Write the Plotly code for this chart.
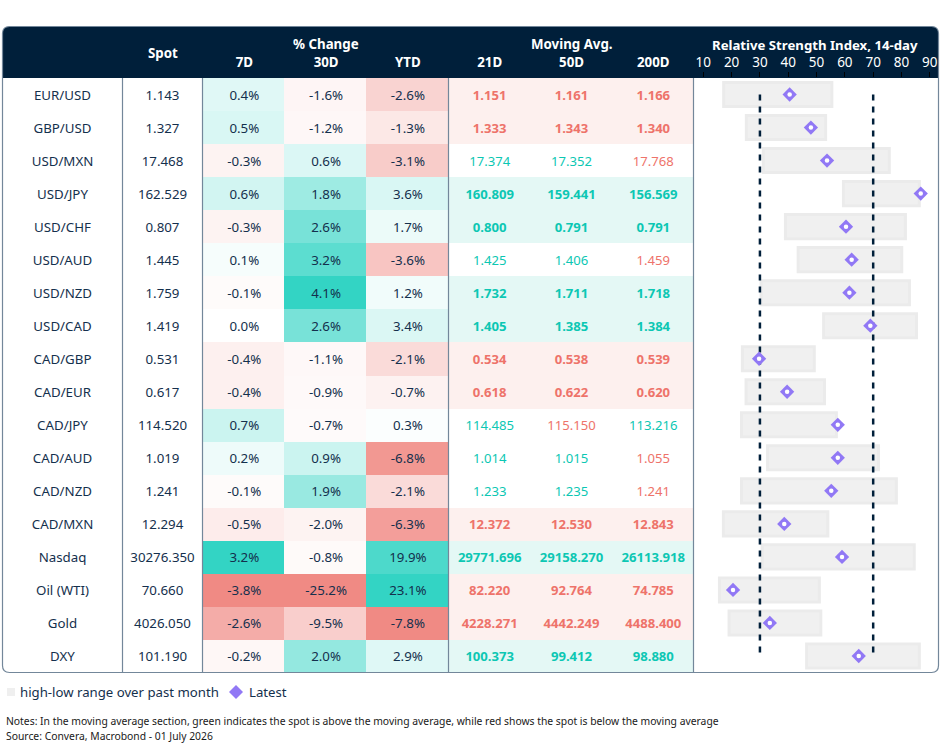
import plotly.graph_objects as go

# table data, one list per column
rows = ["EUR/USD", "GBP/USD", "USD/MXN", "USD/JPY", "USD/CHF", "USD/AUD", "USD/NZD", "USD/CAD", "CAD/GBP",
        "CAD/EUR", "CAD/JPY", "CAD/AUD", "CAD/NZD", "CAD/MXN", "Nasdaq", "Oil (WTI)", "Gold", "DXY"]
spot = [1.143, 1.327, 17.468, 162.529, 0.807, 1.445, 1.759, 1.419, 0.531,
        0.617, 114.520, 1.019, 1.241, 12.294, 30276.350, 70.660, 4026.050, 101.190]
chg_7d = [0.4, 0.5, -0.3, 0.6, -0.3, 0.1, -0.1, 0.0, -0.4, -0.4, 0.7, 0.2, -0.1, -0.5, 3.2, -3.8, -2.6, -0.2]
chg_30d = [-1.6, -1.2, 0.6, 1.8, 2.6, 3.2, 4.1, 2.6, -1.1, -0.9, -0.7, 0.9, 1.9, -2.0, -0.8, -25.2, -9.5, 2.0]
chg_ytd = [-2.6, -1.3, -3.1, 3.6, 1.7, -3.6, 1.2, 3.4, -2.1, -0.7, 0.3, -6.8, -2.1, -6.3, 19.9, 23.1, -7.8, 2.9]
ma_21 = [1.151, 1.333, 17.374, 160.809, 0.800, 1.425, 1.732, 1.405, 0.534,
         0.618, 114.485, 1.014, 1.233, 12.372, 29771.696, 82.220, 4228.271, 100.373]
ma_50 = [1.161, 1.343, 17.352, 159.441, 0.791, 1.406, 1.711, 1.385, 0.538,
         0.622, 115.150, 1.015, 1.235, 12.530, 29158.270, 92.764, 4442.249, 99.412]
ma_200 = [1.166, 1.340, 17.768, 156.569, 0.791, 1.459, 1.718, 1.384, 0.539,
          0.620, 113.216, 1.055, 1.241, 12.843, 26113.918, 74.785, 4488.400, 98.880]

# RSI panel
rsi_low = [17.2, 25.2, 31.2, 59.5, 39.0, 43.5, 30.4, 52.5, 23.8, 25.1, 23.5, 32.7, 23.5, 17.1, 30.8, 15.7, 19.1, 46.5]
rsi_high = [55.4, 53.2, 75.7, 86.3, 81.4, 80.1, 82.8, 85.3, 49.2, 52.8, 57.0, 71.9, 78.2, 54.0, 84.5, 51.0, 51.5, 86.3]
rsi_latest = [40.5, 48.0, 53.7, 86.8, 60.4, 62.4, 61.6, 69.0, 29.7, 39.6, 57.5, 57.5, 55.2, 38.6, 59.0, 20.5, 33.5, 64.9]
rsi_levels = [30, 70]

pct_cols = ["7D", "30D", "YTD"]
ma_cols = ["21D", "50D", "200D"]
table_cols = ["Spot"] + pct_cols + ma_cols

FONT = "Noto Sans"
NAVY = "#001f3a"
TEXT = "#14304d"
FRAME = "#73879a"
TEAL = "#33d4c4"
RED = "#f08a84"
MA_GREEN = "#0cc7b3"
MA_RED = "#ee736a"
W, H = 941, 745


def px(x):
    return x / W


def py(y):
    return 1 - y / H


def scale_column(values):
    # each column is shaded against its own largest rise and largest fall
    top = max(values)
    bottom = -min(values)
    return [(v / top) ** 0.9 if v > 0 else -((-v / bottom) ** 0.9) for v in values]


pct_z = [list(r) for r in zip(*[scale_column(c) for c in (chg_7d, chg_30d, chg_ytd)])]
pct_text = [f"{v:.1f}%" for c in (chg_7d, chg_30d, chg_ytd) for v in c]

# a row is shaded and bold only when the spot is on the same side of all three averages
ma_text, ma_color, ma_weight, ma_z = [], [], [], []
for i in range(len(rows)):
    above = [spot[i] > m[i] for m in (ma_21, ma_50, ma_200)]
    agree = all(above) or not any(above)
    ma_z.append([(1 if above[0] else -1) if agree else 0] * 3)

for m in (ma_21, ma_50, ma_200):
    for i in range(len(rows)):
        ma_text.append(f"{m[i]:.3f}")
        ma_color.append(MA_GREEN if spot[i] > m[i] else MA_RED)
        ma_weight.append(700 if ma_z[i][0] != 0 else 400)

fig = go.Figure()

fig.add_trace(go.Heatmap(x=pct_cols, y=rows, z=pct_z, zmin=-1, zmax=1, showscale=False, hoverinfo="skip",
                         colorscale=[[0, RED], [0.5, "#ffffff"], [1, TEAL]]))
fig.add_trace(go.Heatmap(x=ma_cols, y=rows, z=ma_z, zmin=-1, zmax=1, showscale=False, hoverinfo="skip",
                         colorscale=[[0, "#fdf0ee"], [0.5, "#ffffff"], [1, "#e4f8f5"]]))

# cell text sits on its own axes, nudged a little against the cell colours
fig.add_trace(go.Scatter(x=["Pair"] * len(rows), y=rows, text=rows, mode="text", xaxis="x3", yaxis="y2",
                         textfont=dict(family=FONT, size=13.3, color=TEXT), hoverinfo="skip"))
fig.add_trace(go.Scatter(x=["Spot"] * len(rows), y=rows, text=[f"{v:.3f}" for v in spot], mode="text",
                         xaxis="x4", yaxis="y2",
                         textfont=dict(family=FONT, size=13.3, color=TEXT), hoverinfo="skip"))
fig.add_trace(go.Scatter(x=[c for c in pct_cols for _ in rows], y=rows * 3, text=pct_text, mode="text",
                         xaxis="x4", yaxis="y2",
                         textfont=dict(family=FONT, size=13.3, color=TEXT), hoverinfo="skip"))
fig.add_trace(go.Scatter(x=[c for c in ma_cols for _ in rows], y=rows * 3, text=ma_text, mode="text",
                         xaxis="x4", yaxis="y2",
                         textfont=dict(family=FONT, size=13.1, color=ma_color, weight=ma_weight), hoverinfo="skip"))

# RSI panel
fig.add_trace(go.Bar(y=rows, x=[h - l for h, l in zip(rsi_high, rsi_low)], base=rsi_low, orientation="h",
                     xaxis="x2", width=0.73, marker=dict(color="#f0f0f0", line=dict(color="#ebebeb", width=3)),
                     hoverinfo="skip"))
for level in rsi_levels:
    fig.add_trace(go.Scatter(x=[level, level], y=[rows[0], rows[-1]], mode="lines", xaxis="x2",
                             line=dict(color=NAVY, width=2.5, dash="6px,6px"), hoverinfo="skip"))
fig.add_trace(go.Scatter(x=rsi_latest, y=rows, mode="markers", xaxis="x2", cliponaxis=False,
                         marker=dict(symbol="diamond", size=11, color="#9178f5")))
fig.add_trace(go.Scatter(x=rsi_latest, y=rows, mode="markers", xaxis="x2", cliponaxis=False,
                         marker=dict(symbol="circle", size=4.5, color="#ffffff")))

# header block and frame
top, head, bottom, left, right, r = 26.5, 78, 672.5, 2.5, 938.5, 7
header_path = (f"M {px(left)} {py(head)} L {px(left)} {py(top + r)} Q {px(left)} {py(top)} {px(left + r)} {py(top)} "
               f"L {px(right - r)} {py(top)} Q {px(right)} {py(top)} {px(right)} {py(top + r)} L {px(right)} {py(head)} Z")
frame_path = (f"M {px(left)} {py(top + r)} Q {px(left)} {py(top)} {px(left + r)} {py(top)} "
              f"L {px(right - r)} {py(top)} Q {px(right)} {py(top)} {px(right)} {py(top + r)} "
              f"L {px(right)} {py(bottom - r)} Q {px(right)} {py(bottom)} {px(right - r)} {py(bottom)} "
              f"L {px(left + r)} {py(bottom)} Q {px(left)} {py(bottom)} {px(left)} {py(bottom - r)} Z")
shapes = [
    dict(type="path", path=header_path, xref="paper", yref="paper", fillcolor=NAVY, line_width=0, layer="below"),
    dict(type="path", path=frame_path, xref="paper", yref="paper", line=dict(color=FRAME, width=1.2)),
]
for x in [122.5, 202.5, 448.5, 693.5]:
    shapes.append(dict(type="line", xref="paper", yref="paper", x0=px(x), x1=px(x), y0=py(head), y1=py(bottom),
                       line=dict(color=FRAME, width=1.2)))

# legend row
shapes.append(dict(type="rect", xref="paper", yref="paper", x0=px(7), x1=px(15), y0=py(696), y1=py(688),
                   fillcolor="#efefef", line_width=0))
shapes.append(dict(type="path", xref="paper", yref="paper", fillcolor="#9178f5", line_width=0,
                   path=f"M {px(229)} {py(692)} L {px(236)} {py(685)} L {px(243)} {py(692)} L {px(236)} {py(699)} Z"))


def note(x, y, text, size=13.3, color=TEXT, weight=400, anchor="center"):
    return dict(x=px(x), y=py(y), xref="paper", yref="paper", text=text, showarrow=False, xanchor=anchor,
                yanchor="middle", font=dict(family=FONT, size=size, color=color, weight=weight))


annotations = [
    note(163, 53, "Spot", color="#ffffff", weight=700),
    note(326, 44, "% Change", color="#ffffff", weight=700),
    note(572, 44, "Moving Avg.", color="#ffffff", weight=700),
    note(815, 45, "Relative Strength Index, 14-day", size=13.2, color="#ffffff", weight=700),
    note(18, 692, "high-low range over past month", size=13.2, anchor="left"),
    note(247, 692, "Latest", size=13.2, anchor="left"),
    note(3.5, 721, "Notes: In the moving average section, green indicates the spot is above the moving average, "
                   "while red shows the spot is below the moving average", size=10.35, color="#1a1a1a", anchor="left"),
    note(3.5, 736, "Source: Convera, Macrobond - 01 July 2026", size=10.35, color="#1a1a1a", anchor="left"),
]

fig.update_layout(
    width=W, height=H, margin=dict(l=0, r=0, t=0, b=0, autoexpand=False), showlegend=False, barmode="overlay",
    paper_bgcolor="#ffffff", plot_bgcolor="rgba(0,0,0,0)",
    shapes=shapes, annotations=annotations,
    xaxis=dict(type="category", categoryorder="array", categoryarray=table_cols, range=[-0.5, 6.5], automargin=False,
               domain=[px(120.4), px(693)], anchor="y", visible=False),
    xaxis4=dict(type="category", categoryorder="array", categoryarray=table_cols, range=[-0.5, 6.5], automargin=False,
                domain=[px(121.6), px(694.2)], side="top", anchor="y", showgrid=False, zeroline=False,
                tickmode="array", tickvals=pct_cols + ma_cols, ticks="outside", ticklen=5, tickcolor="rgba(0,0,0,0)",
                tickfont=dict(family=FONT, size=13.3, color="#ffffff", weight=700)),
    xaxis2=dict(range=[10, 90], domain=[px(703.3), px(929.8)], side="top", anchor="y", showgrid=False, zeroline=False,
                automargin=False, tickmode="array", tickvals=list(range(10, 100, 10)), ticks="outside", ticklen=5,
                tickcolor="#000000", tickfont=dict(family=FONT, size=13.5, color="#ffffff")),
    xaxis3=dict(type="category", domain=[px(3), px(122)], anchor="y2", visible=False, automargin=False),
    yaxis=dict(type="category", categoryorder="array", categoryarray=rows, range=[17.5, -0.5], automargin=False,
               domain=[py(bottom), py(head)], visible=False),
    yaxis2=dict(type="category", categoryorder="array", categoryarray=rows, range=[17.5, -0.5], automargin=False,
                domain=[py(bottom + 2), py(head + 2)], visible=False),
)

fig.write_html("out.html", config=dict(displayModeBar=False), post_script="document.body.style.margin='0';")
